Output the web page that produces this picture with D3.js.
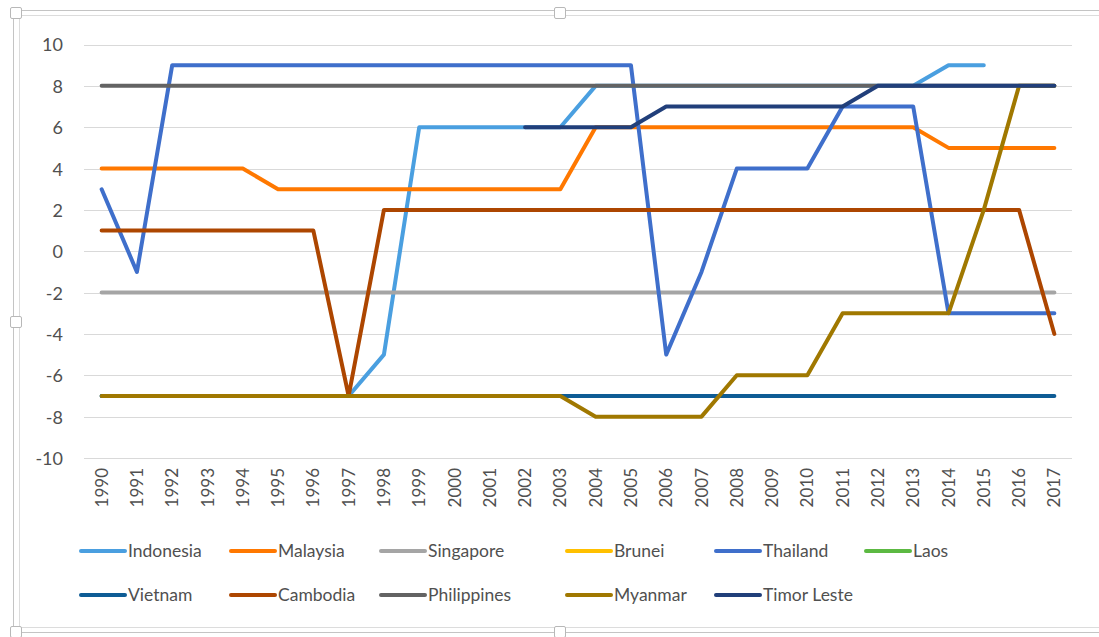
<!DOCTYPE html>
<html lang="en">
<head>
<meta charset="utf-8">
<title>ASEAN index 1990-2017</title>
<script src="https://d3js.org/d3.v7.min.js"></script>
<style>
  body { margin: 0; background: #fff; }
  svg text { font-family: Lato, "Open Sans", sans-serif; fill: #505050; }
</style>
</head>
<body>
<div id="chart"></div>
<script>
// years on the category axis
var years = d3.range(1990, 2018);
var yTicks = [-10, -8, -6, -4, -2, 0, 2, 4, 6, 8, 10];

// one array per country, null where no value
var indonesia   = [-7,-7,-7,-7,-7,-7,-7,-7,-5,6,6,6,6,6,8,8,8,8,8,8,8,8,8,8,9,9,null,null];
var malaysia    = [4,4,4,4,4,3,3,3,3,3,3,3,3,3,6,6,6,6,6,6,6,6,6,6,5,5,5,5];
var singapore   = [-2,-2,-2,-2,-2,-2,-2,-2,-2,-2,-2,-2,-2,-2,-2,-2,-2,-2,-2,-2,-2,-2,-2,-2,-2,-2,-2,-2];
var brunei      = [null,null,null,null,null,null,null,null,null,null,null,null,null,null,null,null,null,null,null,null,null,null,null,null,null,null,null,null];
var thailand    = [3,-1,9,9,9,9,9,9,9,9,9,9,9,9,9,9,-5,-1,4,4,4,7,7,7,-3,-3,-3,-3];
var laos        = [null,null,null,null,null,null,null,null,null,null,null,null,null,null,null,null,null,null,null,null,null,null,null,null,null,null,null,null];
var vietnam     = [-7,-7,-7,-7,-7,-7,-7,-7,-7,-7,-7,-7,-7,-7,-7,-7,-7,-7,-7,-7,-7,-7,-7,-7,-7,-7,-7,-7];
var cambodia    = [1,1,1,1,1,1,1,-7,2,2,2,2,2,2,2,2,2,2,2,2,2,2,2,2,2,2,2,-4];
var philippines = [8,8,8,8,8,8,8,8,8,8,8,8,8,8,8,8,8,8,8,8,8,8,8,8,8,8,8,8];
var myanmar     = [-7,-7,-7,-7,-7,-7,-7,-7,-7,-7,-7,-7,-7,-7,-8,-8,-8,-8,-6,-6,-6,-3,-3,-3,-3,2,8,8];
var timorLeste  = [null,null,null,null,null,null,null,null,null,null,null,null,6,6,6,6,7,7,7,7,7,7,8,8,8,8,8,8];

var seriesNames = ["Indonesia","Malaysia","Singapore","Brunei","Thailand","Laos",
                   "Vietnam","Cambodia","Philippines","Myanmar","Timor Leste"];
var seriesValues = [indonesia, malaysia, singapore, brunei, thailand, laos,
                    vietnam, cambodia, philippines, myanmar, timorLeste];
var seriesColors = ["#4a9fe0","#ff7800","#a5a5a5","#ffc000","#3f6fcb","#5cb942",
                    "#0e5c95","#ad4600","#636363","#a07800","#213f7a"];

var W = 1099, H = 637;
var svg = d3.select("#chart").append("svg")
  .attr("width", W)
  .attr("height", H);

// chart frame (selection border and handles)
var frame = svg.append("g").attr("fill", "none");
frame.append("line").attr("x1", 13).attr("x2", W).attr("y1", 10.5).attr("y2", 10.5).attr("stroke", "#c4c4c4");
frame.append("line").attr("x1", 19).attr("x2", W).attr("y1", 15.5).attr("y2", 15.5).attr("stroke", "#dcdcdc");
frame.append("line").attr("x1", 13.5).attr("x2", 13.5).attr("y1", 10).attr("y2", H).attr("stroke", "#c4c4c4");
frame.append("line").attr("x1", 19.5).attr("x2", 19.5).attr("y1", 15).attr("y2", 627).attr("stroke", "#dcdcdc");
frame.append("line").attr("x1", 19).attr("x2", W).attr("y1", 627.5).attr("y2", 627.5).attr("stroke", "#dcdcdc");
frame.append("line").attr("x1", 13).attr("x2", W).attr("y1", 632.5).attr("y2", 632.5).attr("stroke", "#c4c4c4");
[[16, 13], [560, 13], [16, 322], [16, 632], [560, 632]].forEach(function(p) {
  svg.append("rect")
    .attr("x", p[0] - 5.5).attr("y", p[1] - 5.5)
    .attr("width", 11).attr("height", 11).attr("rx", 1.5)
    .attr("fill", "#fff").attr("stroke", "#b8b8b8");
});

var x = d3.scalePoint()
  .domain(years)
  .range([84, 1072])
  .padding(0.5);

var y = d3.scaleLinear()
  .domain([-10, 10])
  .range([458, 44.5]);

// gridlines
svg.append("g")
  .selectAll("line")
  .data(yTicks).enter()
  .append("line")
  .attr("x1", 84).attr("x2", 1072)
  .attr("y1", function(d) { return Math.round(y(d)) + 0.5; })
  .attr("y2", function(d) { return Math.round(y(d)) + 0.5; })
  .attr("stroke", "#d9d9d9")
  .attr("stroke-width", 1);

// y axis labels (plain hyphen for negatives, like the original)
var yAxis = d3.axisLeft(y)
  .tickValues(yTicks)
  .tickFormat(function(d) { return String(d); })
  .tickSize(0)
  .tickPadding(0);
svg.append("g")
  .attr("transform", "translate(63,0)")
  .call(yAxis)
  .call(function(g) { g.select(".domain").remove(); })
  .selectAll("text")
  .attr("font-family", null)
  .style("font-size", "18px")
  .attr("dy", "0.36em");

// x labels, rotated
svg.append("g")
  .selectAll("text")
  .data(years).enter()
  .append("text")
  .attr("transform", function(d) { return "translate(" + (x(d) + 6) + ",468) rotate(-90)"; })
  .attr("text-anchor", "end")
  .style("font-size", "17px")
  .text(function(d) { return d; });

// lines
var line = d3.line()
  .defined(function(d) { return d.v !== null; })
  .x(function(d) { return x(d.year); })
  .y(function(d) { return y(d.v); });

seriesValues.forEach(function(vals, i) {
  var pts = years.map(function(yr, j) { return { year: yr, v: vals[j] }; });
  svg.append("path")
    .datum(pts)
    .attr("fill", "none")
    .attr("stroke", seriesColors[i])
    .attr("stroke-width", 4)
    .attr("stroke-linejoin", "round")
    .attr("stroke-linecap", "round")
    .attr("d", line);
});

// legend
var legendX = [79, 229, 379, 565, 714, 864];
var legendY = [551, 595];
var legend = svg.append("g")
  .selectAll("g")
  .data(seriesNames).enter()
  .append("g")
  .attr("transform", function(d, i) {
    return "translate(" + legendX[i % 6] + "," + legendY[Math.floor(i / 6)] + ")";
  });

legend.append("line")
  .attr("x1", 2).attr("x2", 46)
  .attr("y1", 0).attr("y2", 0)
  .attr("stroke", function(d, i) { return seriesColors[i]; })
  .attr("stroke-width", 4)
  .attr("stroke-linecap", "round");

legend.append("text")
  .attr("x", 49)
  .attr("dy", "0.36em")
  .style("font-size", "17.5px")
  .text(function(d) { return d; });
</script>
</body>
</html>
